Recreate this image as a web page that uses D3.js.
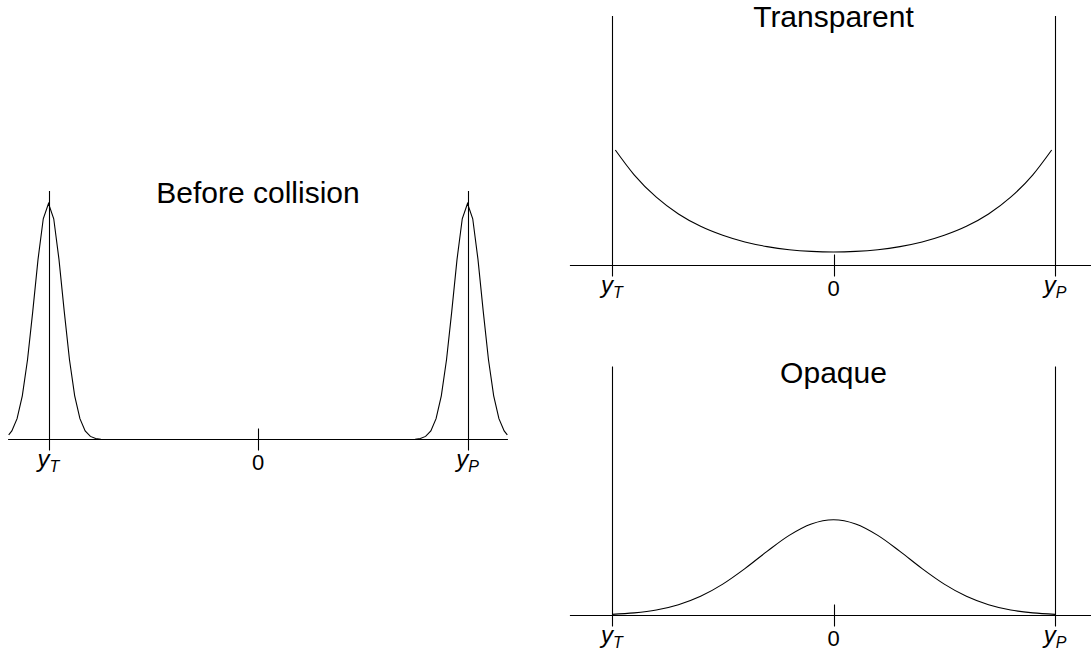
<!DOCTYPE html>
<html>
<head>
<meta charset="utf-8">
<script src="https://cdn.jsdelivr.net/npm/d3@7"></script>
<style>
  html, body { margin: 0; padding: 0; background: #fff; }
  svg { display: block; }
  text { font-family: "Liberation Sans", Arial, Helvetica, sans-serif; fill: #000; }
</style>
</head>
<body>
<svg id="chart" width="1091" height="656"></svg>
<script>
// Position along the collision axis (y_T = -1, 0, y_P = +1)
const tickPositions = [-1, 0, 1];
const tickLabels = [["y", "T"], ["0", ""], ["y", "P"]];

// Panel titles
const titles = ["Before collision", "Transparent", "Opaque"];

// Before collision: two narrow wave packets centred on y_T and y_P
const beforeX = [
  -1.19, -1.175, -1.15, -1.125, -1.1, -1.075, -1.05, -1.025, -1.0,
  -0.975, -0.95, -0.925, -0.9, -0.875, -0.85, -0.825, -0.8, -0.775, -0.75, -0.7,
  0.7, 0.75, 0.775, 0.8, 0.825, 0.85, 0.875, 0.9, 0.925, 0.95, 0.975,
  1.0, 1.025, 1.05, 1.075, 1.1, 1.125, 1.15, 1.175, 1.19
];
const beforeDensity = [
  0.047, 0.086, 0.208, 0.437, 0.800, 1.284, 1.801, 2.207, 2.360,
  2.207, 1.801, 1.284, 0.800, 0.437, 0.208, 0.086, 0.031, 0.010, 0.003, 0.000,
  0.000, 0.003, 0.010, 0.031, 0.086, 0.208, 0.437, 0.800, 1.284, 1.801, 2.207,
  2.360, 2.207, 1.801, 1.284, 0.800, 0.437, 0.208, 0.086, 0.047
];

// Transparent case: distribution rising towards both targets
const transparentX = [
  -0.985, -0.9, -0.8, -0.7, -0.6, -0.5, -0.4, -0.3, -0.2, -0.1, 0,
  0.1, 0.2, 0.3, 0.4, 0.5, 0.6, 0.7, 0.8, 0.9, 0.985
];
const transparentDensity = [
  1.155, 0.907, 0.683, 0.515, 0.392, 0.302, 0.235, 0.189, 0.158, 0.141, 0.135,
  0.141, 0.158, 0.189, 0.235, 0.302, 0.392, 0.515, 0.683, 0.907, 1.155
];

// Opaque case: distribution concentrated at the centre
const opaqueX = [
  -1.0, -0.9, -0.8, -0.7, -0.6, -0.5, -0.4, -0.3, -0.2, -0.1, 0,
  0.1, 0.2, 0.3, 0.4, 0.5, 0.6, 0.7, 0.8, 0.9, 1.0
];
const opaqueDensity = [
  0.011, 0.026, 0.055, 0.108, 0.192, 0.314, 0.469, 0.641, 0.801, 0.915, 0.957,
  0.915, 0.801, 0.641, 0.469, 0.314, 0.192, 0.108, 0.055, 0.026, 0.011
];

const svg = d3.select("#chart");

const panels = [
  {
    title: titles[0], xs: beforeX, ys: beforeDensity, curve: d3.curveLinear,
    range: [48.5, 467.5], axisY: 439.5, lineTop: 191, axisExt: 1.193,
    titleY: 203, titleX: 0
  },
  {
    title: titles[1], xs: transparentX, ys: transparentDensity, curve: d3.curveMonotoneX,
    range: [612, 1055], axisY: 265.5, lineTop: 16, axisExt: 1.19,
    titleY: 27, titleX: 0
  },
  {
    title: titles[2], xs: opaqueX, ys: opaqueDensity, curve: d3.curveMonotoneX,
    range: [612, 1055], axisY: 615.5, lineTop: 366.5, axisExt: 1.19,
    titleY: 383, titleX: 0
  }
];

panels.forEach(p => {
  const g = svg.append("g");
  const x = d3.scaleLinear().domain([-1, 1]).range(p.range);
  const y = d3.scaleLinear().domain([0, 1]).range([p.axisY, p.axisY - 100]);

  // horizontal axis
  g.append("line")
    .attr("x1", x(-p.axisExt)).attr("x2", x(p.axisExt))
    .attr("y1", p.axisY).attr("y2", p.axisY)
    .attr("stroke", "#000").attr("stroke-width", 1.1);

  // vertical markers at the targets and the centre tick
  tickPositions.forEach((t, i) => {
    const top = t === 0 ? p.axisY - 11 : p.lineTop;
    const xp = Math.round(x(t)) + 0.5;
    g.append("line")
      .attr("x1", xp).attr("x2", xp)
      .attr("y1", top).attr("y2", p.axisY + 11)
      .attr("stroke", "#000").attr("stroke-width", 1.1);

    const lab = tickLabels[i];
    const txt = g.append("text")
      .attr("x", x(t))
      .attr("y", p.axisY + (lab[1] ? 27 : 30))
      .attr("text-anchor", "middle");
    if (lab[1]) {
      txt.append("tspan").attr("font-size", 24).attr("font-style", "italic").text(lab[0]);
      txt.append("tspan").attr("font-size", 16).attr("font-style", "italic")
        .attr("dy", 5).text(lab[1]);
    } else {
      txt.attr("font-size", 22).text(lab[0]);
    }
  });

  // distribution curve
  const pts = p.xs.map((v, i) => [v, p.ys[i]]);
  const line = d3.line().x(d => x(d[0])).y(d => y(d[1])).curve(p.curve);
  g.append("path")
    .datum(pts)
    .attr("d", line)
    .attr("fill", "none")
    .attr("stroke", "#000")
    .attr("stroke-width", 1.1);

  // title
  g.append("text")
    .attr("x", x(p.titleX))
    .attr("y", p.titleY)
    .attr("text-anchor", "middle")
    .attr("font-size", 30)
    .text(p.title);
});
</script>
</body>
</html>
